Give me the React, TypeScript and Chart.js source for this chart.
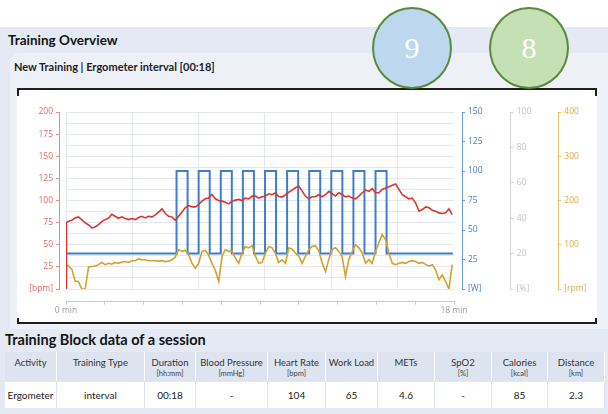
import React, { useEffect, useRef } from 'react';
import { Chart, registerables } from 'chart.js';

Chart.register(...registerables);

// ---- data (minutes since start) ----
const minutes = [
  0, 0.02, 0.11, 0.26, 0.41, 0.56, 0.71, 0.87, 1.02, 1.17, 1.32, 1.47, 1.62, 1.77, 1.92, 2.07, 2.22, 2.38,
  2.53, 2.68, 2.83, 2.98, 3.13, 3.28, 3.43, 3.58, 3.73, 3.89, 4.04, 4.19, 4.34, 4.49, 4.64, 4.79,
  4.94, 5.09, 5.24, 5.4, 5.55, 5.7, 5.85, 6.0, 6.15, 6.3, 6.45, 6.6, 6.75, 6.91, 7.06, 7.21,
  7.36, 7.51, 7.66, 7.81, 7.96, 8.11, 8.26, 8.42, 8.57, 8.72, 8.87, 9.02, 9.17, 9.32, 9.47, 9.62,
  9.77, 9.93, 10.08, 10.23, 10.38, 10.53, 10.68, 10.83, 10.98, 11.13, 11.28, 11.44, 11.59, 11.74,
  11.89, 12.04, 12.19, 12.34, 12.49, 12.64, 12.79, 12.95, 13.1, 13.25, 13.4, 13.55, 13.7, 13.85,
  14.0, 14.15, 14.3, 14.46, 14.61, 14.76, 14.91, 15.06, 15.21, 15.36, 15.51, 15.66, 15.81, 15.97,
  16.12, 16.27, 16.42, 16.57, 16.72, 16.87, 17.02, 17.17, 17.32, 17.47,
];

const heartRate = [
  0, 75, 76.5, 77.7, 80.3, 81.5, 78.4, 74.6, 72.4, 69.0, 70.1, 72.7, 76.1, 78.4, 79.9, 84.5, 82.2, 79.9,
  81.5, 79.6, 78.4, 79.6, 78.4, 80.7, 82.2, 80.3, 82.2, 81.5, 83.7, 86.8, 90.6, 85.3, 82.2, 81.5,
  77.7, 82.2, 86.8, 92.1, 94.3, 92.8, 92.8, 95.5, 99.3, 101.9, 102.7, 106.8, 101.9, 100.0, 99.3, 98.1,
  96.2, 99.3, 100.4, 101.2, 100.0, 102.7, 101.9, 105.0, 105.0, 102.7, 104.2, 105.0, 107.6, 106.5, 108.7, 104.6,
  103.8, 106.5, 109.5, 111.8, 114.4, 116.3, 110.6, 105.0, 101.9, 104.2, 104.2, 106.8, 104.2, 106.8,
  110.3, 107.6, 105.0, 108.7, 106.8, 104.2, 105.0, 102.7, 101.9, 105.0, 108.7, 111.8, 110.3, 113.3,
  108.7, 108.7, 112.5, 114.0, 115.6, 117.1, 118.6, 112.5, 106.5, 104.2, 101.9, 102.7, 97.4, 87.9,
  89.8, 92.8, 91.7, 89.0, 87.9, 86.0, 85.3, 86.0, 90.6, 84.1,
];

const cadence = [
  57, 55, 52, 45, 18, 17, 0, 0, 50, 51, 52, 55, 60, 55, 58, 56, 60, 58,
  61, 62, 60, 64, 64, 68, 66, 66, 64, 64, 64, 63, 64, 62, 63, 66,
  72, 89, 85, 87, 77, 58, 47, 58, 85, 87, 77, 58, 43, 17, 74, 89,
  85, 85, 70, 58, 81, 96, 93, 98, 74, 58, 60, 81, 96, 93, 81, 60,
  66, 58, 93, 90, 81, 74, 58, 74, 89, 96, 98, 85, 58, 39,
  68, 89, 93, 85, 74, 28, 66, 85, 100, 93, 81, 58, 66, 58,
  85, 104, 123, 111, 81, 58, 55, 58, 60, 58, 62, 64, 62, 58,
  60, 55, 52, 55, 43, 21, 32, 17, 0, 55,
];

const workTimes = [
  0, 5, 5, 5.5, 5.5, 6, 6, 6.5, 6.5, 7, 7, 7.5, 7.5, 8, 8, 8.5, 8.5, 9, 9, 9.5, 9.5,
  10, 10, 10.5, 10.5, 11, 11, 11.5, 11.5, 12, 12, 12.5, 12.5, 13, 13, 13.5, 13.5, 14, 14, 14.5, 14.5, 17.5,
];
const workLoad = [
  30, 30, 100, 100, 30, 30, 100, 100, 30, 30, 100, 100, 30, 30, 100, 100, 30, 30, 100, 100, 30,
  30, 100, 100, 30, 30, 100, 100, 30, 30, 100, 100, 30, 30, 100, 100, 30, 30, 100, 100, 30, 30,
];

const gridMinutes = [0, 3, 6, 9, 12, 15];
const timelineTicks = [0, 1.8, 3.6, 5.4, 7.2, 9, 10.8, 12.6, 14.4, 16.2, 18];

const tableHeaders = ['Activity', 'Training Type', 'Duration', 'Blood Pressure', 'Heart Rate', 'Work Load', 'METs', 'SpO2', 'Calories', 'Distance'];
const tableUnits = ['', '', '[hh:mm]', '[mmHg]', '[bpm]', '', '', '[%]', '[kcal]', '[km]'];
const tableValues = ['Ergometer', 'interval', '00:18', '-', '104', '65', '4.6', '-', '85', '2.3'];
const colWidths = [52, 88, 51, 72, 58, 52, 57, 57, 56, 57];

const FONT = 'Lato, "Open Sans", sans-serif';
const AX_FONT = { family: '"Open Sans", sans-serif', size: 8.5 };
const GRID = '#e4e7ee';

function ChartBox() {
  const ref = useRef<HTMLCanvasElement | null>(null);
  useEffect(() => {
    if (!ref.current) return;
    const axisY = (color: string, lineColor: string, max: number, step: number, unit: string, pos: 'left' | 'right', weight: number, width: number) => ({
      type: 'linear' as const,
      position: pos,
      weight,
      min: 0,
      max,
      ticks: {
        stepSize: step,
        color,
        font: AX_FONT,
        padding: 3,
        callback: (v: any) => (Number(v) === 0 ? unit : String(v)),
      },
      grid: { drawOnChartArea: false, drawTicks: true, tickLength: 3, color: lineColor },
      border: { display: true, color: lineColor, width: 1 },
      afterFit: (s: any) => { s.width = width; },
    });

    const chart = new Chart(ref.current, {
      type: 'line',
      data: {
        datasets: [
          {
            label: 'Heart Rate',
            data: minutes.map((t, i) => ({ x: t, y: heartRate[i] })),
            yAxisID: 'yHR', xAxisID: 'x',
            borderColor: '#d8362f', borderWidth: 1.6, pointRadius: 0, tension: 0, fill: false,
          },
          {
            label: 'Cadence',
            data: minutes.map((t, i) => ({ x: t, y: cadence[i] })),
            yAxisID: 'yR', xAxisID: 'x',
            borderColor: '#d4a12c', borderWidth: 1.6, pointRadius: 0, tension: 0, fill: false,
          },
          {
            label: 'Work Load',
            data: workTimes.map((t, i) => ({ x: t, y: workLoad[i] })),
            yAxisID: 'yW', xAxisID: 'x',
            borderColor: '#3d7fcc', borderWidth: 2, pointRadius: 0, tension: 0, fill: false,
          },
        ],
      },
      options: {
        responsive: false,
        animation: false,
        events: [],
        layout: { padding: { left: 12, top: 22, right: 8.7, bottom: 2.3 } },
        plugins: { legend: { display: false }, tooltip: { enabled: false } },
        scales: {
          x: {
            type: 'linear', position: 'bottom', weight: 0, min: 0, max: 17.55,
            afterBuildTicks: (s: any) => { s.ticks = gridMinutes.map((v) => ({ value: v })); },
            ticks: { display: false },
            grid: { color: GRID, drawTicks: false, lineWidth: 1 },
            border: { display: false },
            afterFit: (s: any) => { s.height = 12.7; },
          },
          x2: {
            type: 'linear', position: 'bottom', weight: 1, min: 0, max: 18,
            afterBuildTicks: (s: any) => { s.ticks = timelineTicks.map((v) => ({ value: v })); },
            ticks: {
              autoSkip: false, maxRotation: 0, color: '#9c9c9c', font: AX_FONT, padding: 1,
              callback: (v: any) => (Number(v) === 0 ? '0 min' : Number(v) === 18 ? '18 min' : ''),
            },
            grid: { drawOnChartArea: false, drawTicks: true, tickLength: 3, color: '#c9c9c9' },
            border: { display: true, color: '#c9c9c9' },
            afterFit: (s: any) => { s.height = 16; },
          },
          yg: {
            type: 'linear', position: 'left', weight: 0, min: 0, max: 200,
            ticks: { display: false, stepSize: 12.5 },
            grid: { color: GRID, drawTicks: false, lineWidth: 1 },
            border: { display: false },
            afterFit: (s: any) => { s.width = 7; },
          },
          yHR: axisY('#e06767', '#ee8a86', 200, 25, '[bpm]', 'left', 1, 30),
          ys: {
            type: 'linear', position: 'right', weight: 0, min: 0, max: 1,
            ticks: { display: false }, grid: { display: false }, border: { display: false },
            afterFit: (s: any) => { s.width = 8; },
          },
          yW: axisY('#4a7fc2', '#6b9ad6', 150, 25, '[W]', 'right', 1, 48.7),
          yP: axisY('#c2c2c2', '#d6d6d6', 100, 20, '[%]', 'right', 2, 47.6),
          yR: axisY('#dcaa45', '#e8c46e', 400, 100, '[rpm]', 'right', 3, 30),
        },
      } as any,
    });
    return () => chart.destroy();
  }, []);
  return <canvas ref={ref} width={580} height={230} style={{ position: 'absolute', left: 17, top: 90, width: 580, height: 230 }} />;
}

function Circle({ left, bg, text }: { left: number; bg: string; text: string }) {
  return (
    <div style={{
      position: 'absolute', left, top: 7, width: 76, height: 78, borderRadius: '50%',
      background: bg, border: '2.5px solid #5a8a3a', display: 'flex', alignItems: 'center', justifyContent: 'center',
      color: '#ffffff', fontFamily: '"Liberation Serif", "DejaVu Serif", serif', fontSize: 30, zIndex: 5,
    }}>{text}</div>
  );
}

export default function App() {
  const hook = (extra: React.CSSProperties): React.CSSProperties => ({ position: 'absolute', borderColor: '#1e1e1e', borderStyle: 'solid', borderWidth: 0, ...extra });
  return (
    <div style={{ position: 'absolute', left: 0, top: 0, width: 608, height: 414, overflow: 'hidden', background: '#ffffff', fontFamily: FONT }}>
      <div style={{ position: 'absolute', left: 0, top: 27, width: 608, height: 387, background: '#e4e9f4' }} />
      <div style={{ position: 'absolute', left: 8, top: 32, fontSize: 13.5, fontWeight: 700, color: '#141414' }}>Training Overview</div>
      <div style={{ position: 'absolute', left: 10, top: 53, width: 598, height: 276, background: '#edf0f6', borderTopLeftRadius: 10 }} />
      <div style={{ position: 'absolute', left: 14, top: 60, fontSize: 11, fontWeight: 700, color: '#1e1e1e' }}>New Training | Ergometer interval [00:18]</div>
      <div style={{ position: 'absolute', left: 17, top: 88, width: 580, height: 236, background: '#ffffff' }} />
      <div style={hook({ left: 17, top: 88, width: 576, height: 6, borderTopWidth: 2, borderLeftWidth: 2, borderRightWidth: 2 })} />
      <div style={hook({ left: 17, top: 318, width: 576, height: 4, borderBottomWidth: 2, borderLeftWidth: 2, borderRightWidth: 2 })} />
      <ChartBox />
      <Circle left={372} bg="#bdd7ee" text="9" />
      <Circle left={489} bg="#c5e0b4" text="8" />
      <div style={{ position: 'absolute', left: 5, top: 331, fontSize: 14.5, fontWeight: 700, color: '#141414' }}>Training Block data of a session</div>
      <div style={{ position: 'absolute', left: 5, top: 352, display: 'flex', background: '#ffffff' }}>
        {tableHeaders.map((h, i) => (
          <div key={h} style={{
            width: colWidths[i] - 1, marginRight: 1, height: 29, background: '#dde3ef', textAlign: 'center',
            overflow: 'hidden', whiteSpace: 'nowrap', color: '#333', fontSize: 9.5, paddingTop: 5, boxSizing: 'border-box',
          }}>
            <div style={{ overflow: 'hidden' }}>{h}</div>
            <div style={{ fontSize: 7.5, marginTop: 1, color: '#444' }}>{tableUnits[i]}</div>
          </div>
        ))}
      </div>
      <div style={{ position: 'absolute', left: 5, top: 382, display: 'flex', background: '#dde3ef' }}>
        {tableValues.map((v, i) => (
          <div key={i} style={{
            width: colWidths[i] - 1, marginRight: 1, height: 26, background: '#ffffff', textAlign: 'center',
            color: '#222', fontSize: 10, lineHeight: '26px',
          }}>{v}</div>
        ))}
      </div>
    </div>
  );
}
